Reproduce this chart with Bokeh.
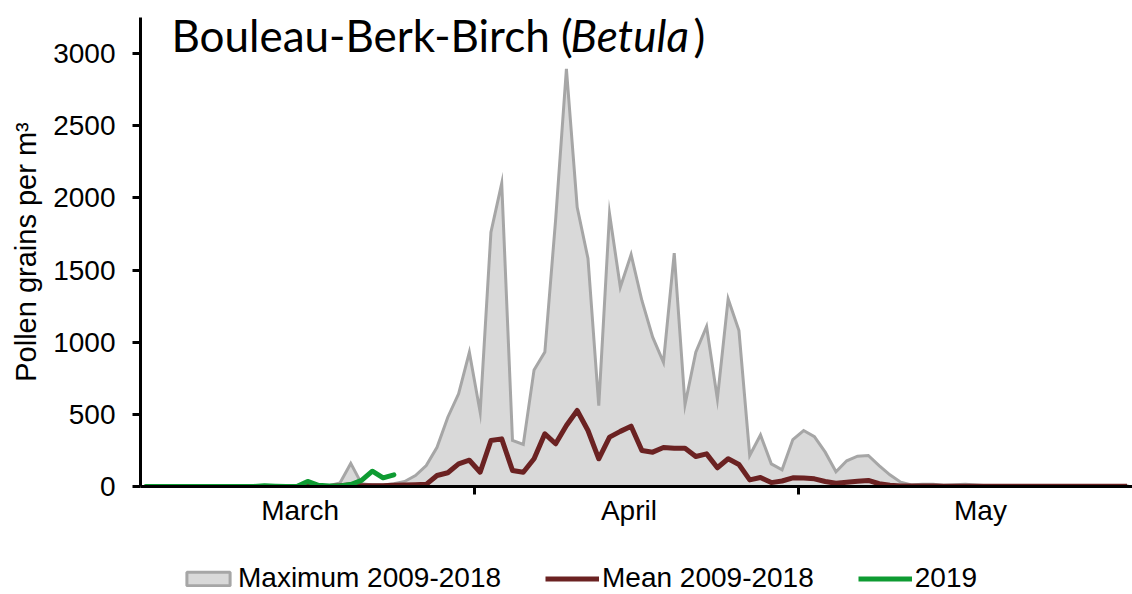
from bokeh.plotting import figure
from bokeh.layouts import column
from bokeh.models import (FixedTicker, Label, Legend, LegendItem)
from bokeh.embed import file_html
from bokeh.resources import INLINE

# ---- data (daily values, 1 March .. 31 May) ----
months = ["March", "April", "May"]
month_days = [31, 30, 31]

max_2009_2018 = [0, 0, 0, 0, 0, 0, 0, 0, 0, 0, 0, 0, 0, 0, 0, 0, 0, 5, 25, 160,
                 20, 10, 10, 20, 35, 76, 145, 272, 480, 642, 930, 515, 1762, 2101, 319, 291,
                 808, 931, 1850, 2894, 1935, 1580, 561, 1889, 1381, 1607, 1289, 1035, 861, 1617,
                 568, 931, 1109, 607, 1300, 1081, 215, 357, 157, 116, 325, 388, 346, 238, 102,
                 178, 210, 215, 145, 81, 30, 10, 15, 15, 8, 12, 15, 10, 6, 5, 5, 6, 5, 4,
                 5, 4, 3, 4, 3, 3, 3, 3]

mean_2009_2018 = [0, 0, 0, 0, 0, 0, 0, 0, 0, 0, 0, 0, 0, 0, 0, 3, 0, 0, 5, 12,
                  5, 5, 5, 8, 10, 12, 15, 76, 95, 157, 182, 99, 319, 330, 111, 99,
                  192, 365, 296, 423, 527, 388, 192, 342, 382, 418, 249, 238, 270, 265,
                  265, 208, 226, 130, 192, 152, 46, 62, 27, 38, 60, 59, 53, 35, 23,
                  30, 37, 42, 19, 8, 4, 3, 3, 3, 2, 2, 2, 2, 2, 2, 2, 2, 2, 2,
                  2, 2, 2, 2, 2, 2, 2, 2]

y2019 = [0, 0, 0, 0, 0, 0, 0, 0, 0, 0, 0, 5, 2, 0, 0, 35, 8, 3, 3, 14, 42, 106, 60, 81]

y_ticks = [0, 500, 1000, 1500, 2000, 2500, 3000]
series_labels = ["Maximum 2009-2018", "Mean 2009-2018", "2019"]

# ---- styles / layout constants ----
MAX_FILL, MAX_LINE = "#D9D9D9", "#A6A6A6"
MEAN_COL, COL_2019 = "#6B2222", "#0E9B32"
MONTH_LABEL_POS = [14.8, 45.3, 77.9]   # where the month names sit (days from 1 March)

# ---- derived positions (category centres) ----
n_days = sum(month_days)
x_days = [i + 0.5 for i in range(n_days)]
x_2019 = [i + 0.5 for i in range(len(y2019))]
bounds = [0]
for d in month_days:
    bounds.append(bounds[-1] + d)

MAIN_H, LEG_H = 562, 32

p = figure(width=1132, height=MAIN_H, output_backend="svg", toolbar_location=None,
           x_range=(0, n_days), y_range=(0, 3250),
           min_border_left=140, min_border_right=0, min_border_top=17,
           min_border_bottom=MAIN_H - 486)
p.outline_line_color = None
p.grid.grid_line_color = None

# maximum area
px = x_days + [x_days[-1], x_days[0]]
py = max_2009_2018 + [0, 0]
p.patch(px, py, fill_color=MAX_FILL, line_color=MAX_LINE, line_width=3, line_join="miter")
p.line(x_days, mean_2009_2018, line_color=MEAN_COL, line_width=5, line_join="round")
p.line(x_2019, y2019, line_color=COL_2019, line_width=5, line_join="round", line_cap="round")

# axes
xa = p.xaxis[0]
xa.ticker = FixedTicker(ticks=MONTH_LABEL_POS, minor_ticks=bounds[1:-1])
xa.major_label_overrides = {c: m for c, m in zip(MONTH_LABEL_POS, months)}
xa.major_tick_line_color = None
xa.major_tick_out = 0
xa.major_tick_in = 0
xa.minor_tick_out = 8
xa.minor_tick_in = 0
xa.minor_tick_line_width = 3
xa.minor_tick_line_color = "black"
xa.axis_line_width = 3
xa.axis_line_color = "black"
xa.major_label_text_font = "Liberation Sans"
xa.major_label_text_font_size = "28px"
xa.major_label_text_color = "black"
xa.major_label_standoff = 0

ya = p.yaxis[0]
ya.ticker = FixedTicker(ticks=y_ticks)
ya.minor_tick_line_color = None
ya.major_tick_out = 8
ya.major_tick_in = 0
ya.major_tick_line_width = 3
ya.axis_line_width = 3
ya.axis_line_color = "black"
ya.major_label_text_font = "Liberation Sans"
ya.major_label_text_font_size = "28px"
ya.major_label_text_color = "black"
ya.major_label_standoff = 17
ya.axis_label = "Pollen grains per m³"
ya.axis_label_text_font = "Liberation Sans"
ya.axis_label_text_font_size = "29px"
ya.axis_label_text_font_style = "normal"
ya.axis_label_text_color = "black"
ya.axis_label_standoff = 8

# title (inside plot area)
title_font = "Lato"
title_size = "44px"
for txt, xpos, style in [("Bouleau-Berk-Birch (", 31, "normal"),
                         ("Betula", 430, "italic"),
                         (")", 553, "normal")]:
    p.add_layout(Label(x=xpos, y=452, x_units="screen", y_units="screen",
                       text=txt, text_font=title_font, text_font_style=style,
                       text_baseline="alphabetic",
                       text_font_size=title_size, text_color="black"))

# ---- legend strip (proxy renderers lie outside its visible range) ----
lg = figure(width=1132, height=LEG_H, output_backend="svg", toolbar_location=None,
            x_axis_type=None, y_axis_type=None, min_border=0,
            x_range=(0, n_days), y_range=(-2, -1))
lg.outline_line_color = None
lg.grid.grid_line_color = None
k_max = lg.patch(px, py, fill_color=MAX_FILL, line_color=MAX_LINE, line_width=3)
k_mean = lg.line(x_days, mean_2009_2018, line_color=MEAN_COL, line_width=5)
k_2019 = lg.line(x_2019, y2019, line_color=COL_2019, line_width=5)
legend = Legend(items=[LegendItem(label=series_labels[0], renderers=[k_max]),
                       LegendItem(label=series_labels[1], renderers=[k_mean]),
                       LegendItem(label=series_labels[2], renderers=[k_2019])],
                orientation="horizontal", location=(41, 0),
                glyph_width=54, glyph_height=17, label_standoff=3, spacing=44,
                padding=0, margin=0, border_line_color=None,
                background_fill_alpha=0,
                label_text_font="Liberation Sans", label_text_font_size="28px",
                label_height=24, label_text_color="black")
lg.add_layout(legend, "center")

layout = column(p, lg, spacing=0)
open("out.html", "w").write(file_html(layout, INLINE))
